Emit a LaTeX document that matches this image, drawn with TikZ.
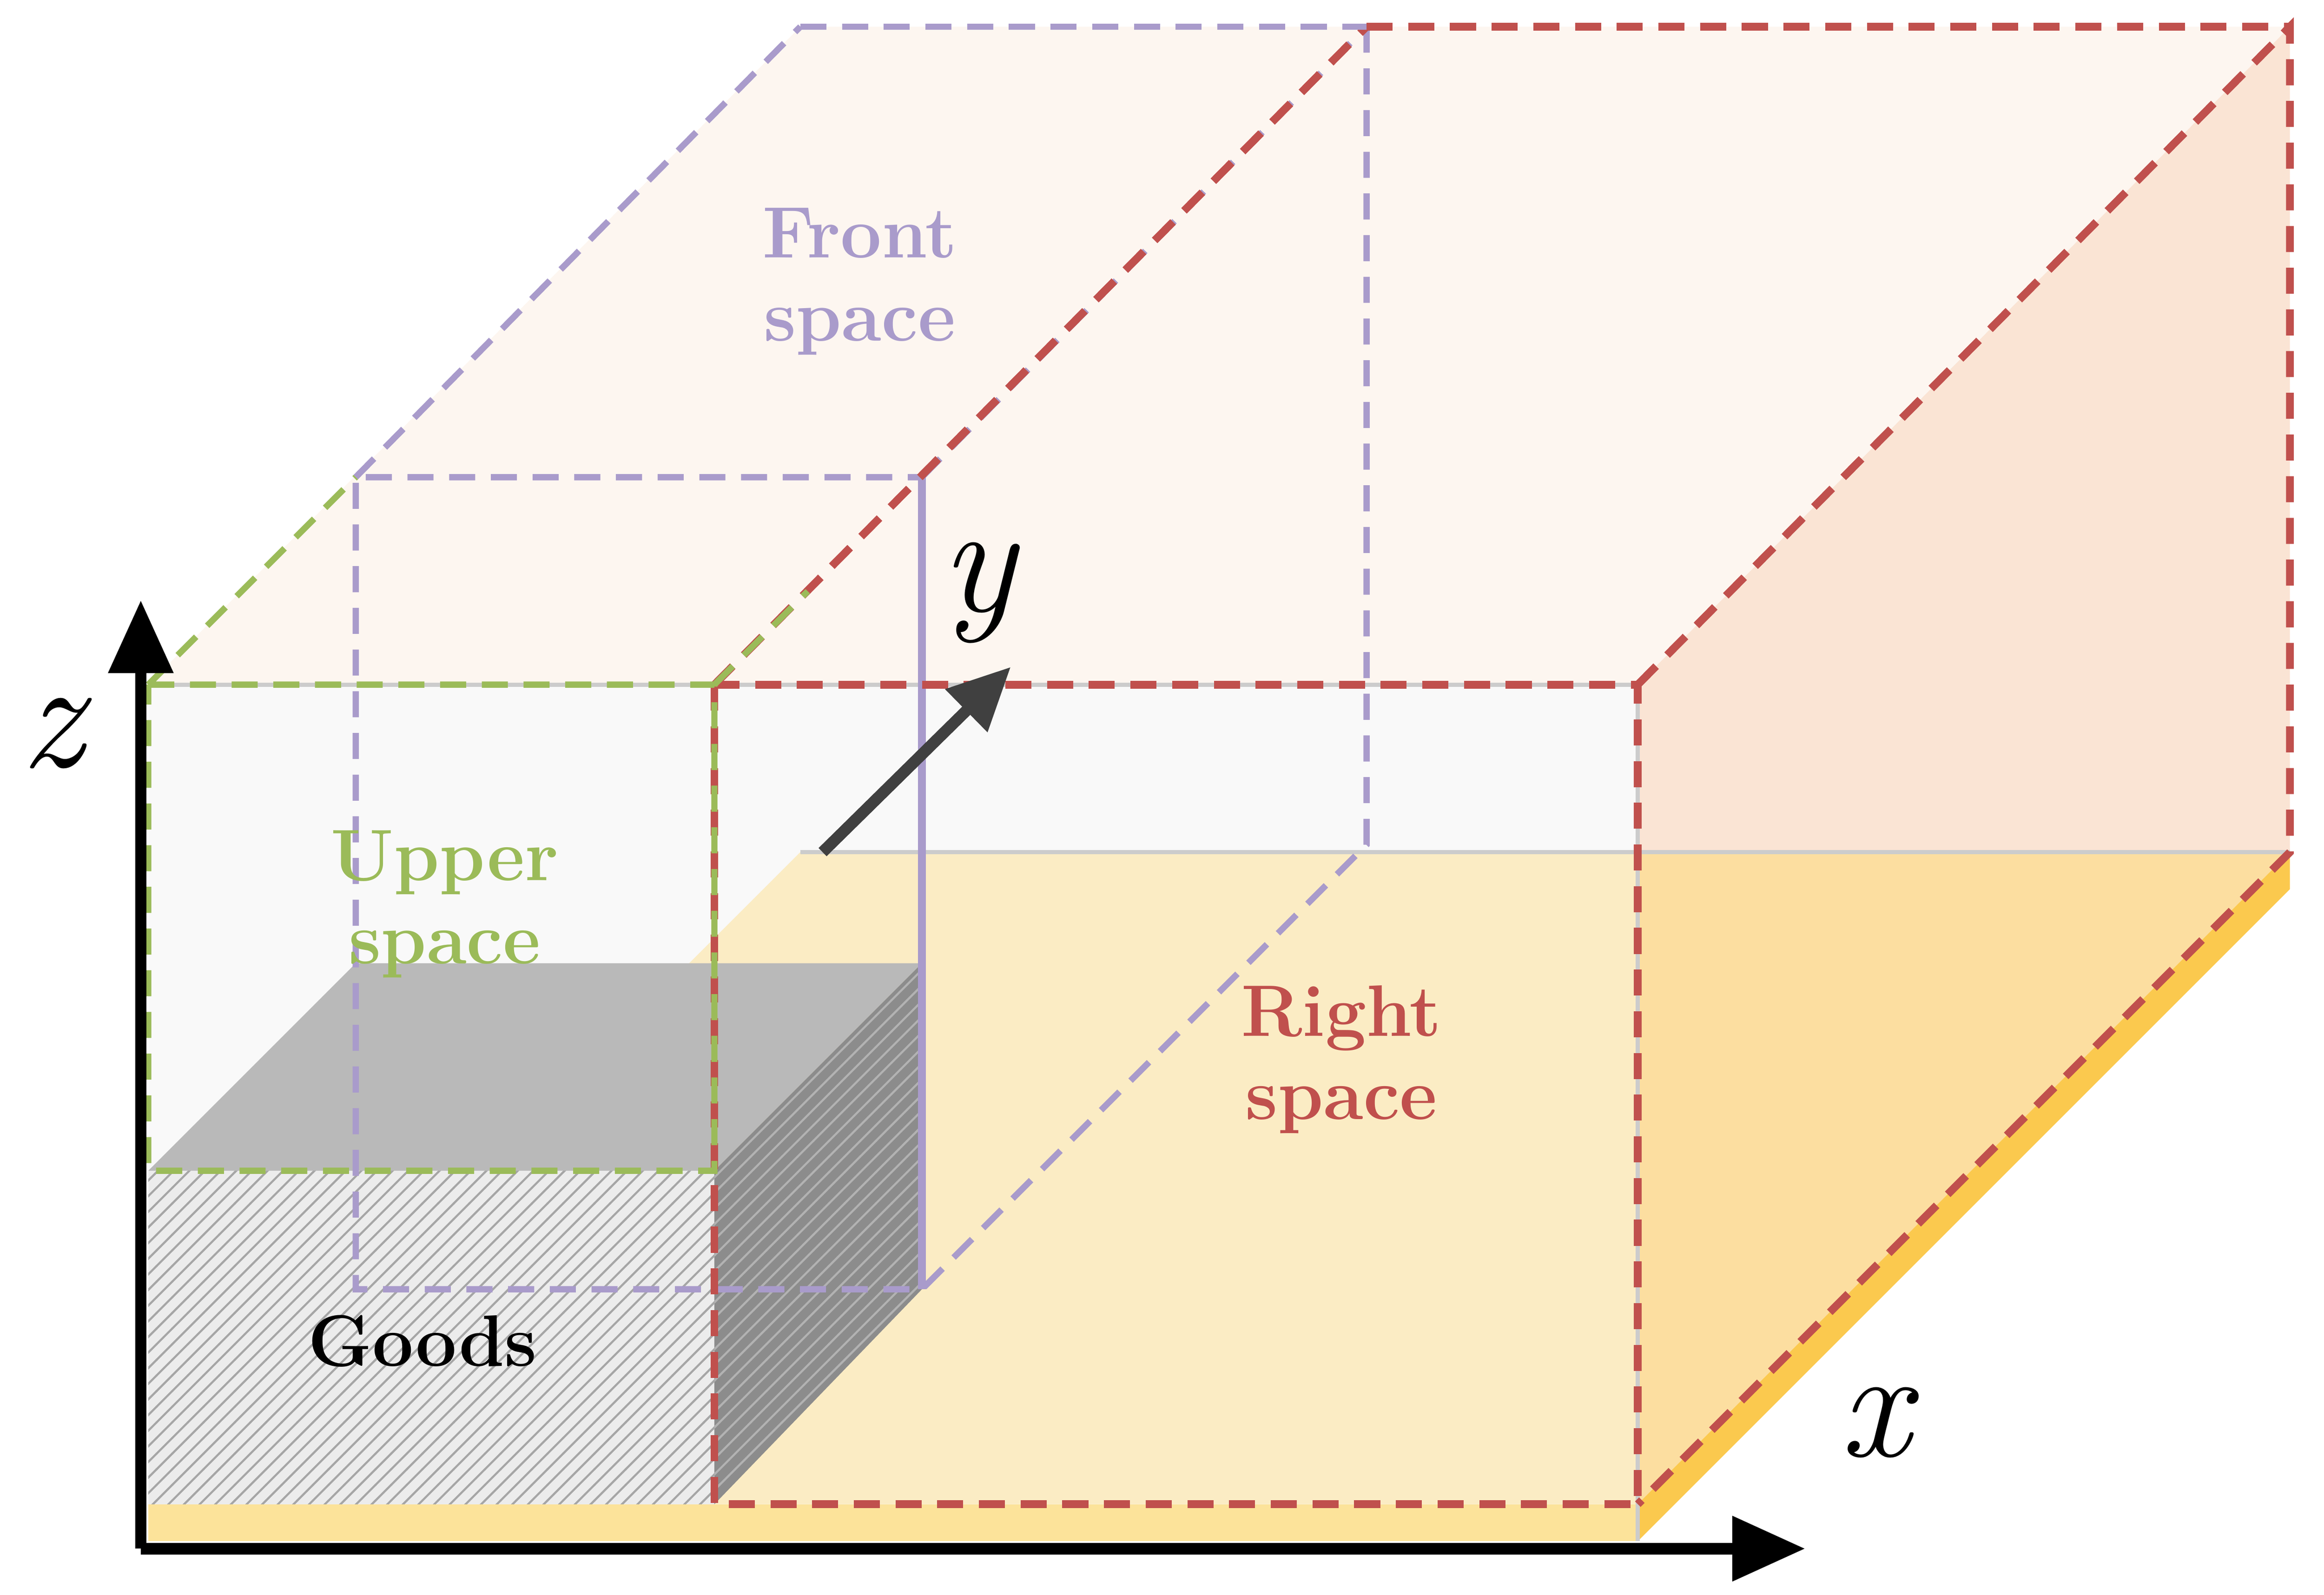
\documentclass[tikz,border=0pt]{standalone}
\usetikzlibrary{patterns,arrows.meta}
\begin{document}
\begin{tikzpicture}[x=0.01cm,y=-0.01cm,
  dsh/.style={line width=1.2pt,dash pattern=on 5pt off 3pt},
  pur/.style={dsh,draw=purpleC},
  grn/.style={dsh,draw=greenC},
  red/.style={dsh,draw=redC,line width=1.5pt},
  lab/.style={font=\fontsize{14}{16}\selectfont\bfseries,align=center},
  ax/.style={line width=2.2pt,-{Triangle[length=14pt,width=12pt]}},
  axl/.style={font=\fontsize{30}{30}\selectfont\itshape}]
\definecolor{purpleC}{HTML}{A99BCB}
\definecolor{greenC}{HTML}{9BBB59}
\definecolor{redC}{HTML}{C0504D}
\useasboundingbox (0,0) rectangle (1568,1076);
% container faces
\fill[fill={rgb,255:red,253;green,246;blue,240}] (100,462)--(540,18)--(1545,18)--(1105,462)--cycle;
\fill[fill={rgb,255:red,250;green,228;blue,212}] (1105,462)--(1545,18)--(1545,575)--(1105,1015)--cycle;
\fill[fill={rgb,255:red,249;green,249;blue,249}] (100,462) rectangle (1105,1015);
% floor
\fill[fill={rgb,255:red,251;green,236;blue,196}] (100,1015)--(540,575)--(1545,575)--(1105,1015)--cycle;
\fill[fill={rgb,255:red,252;green,222;blue,160}] (1105,1015)--(1105,575)--(1545,575)--cycle;
\fill[fill={rgb,255:red,252;green,227;blue,154}] (100,1015) rectangle (1105,1040);
\fill[fill={rgb,255:red,251;green,201;blue,78}] (1105,1015)--(1545,575)--(1545,600)--(1105,1040)--cycle;
\draw[gray!40,line width=0.8pt] (100,462)--(1105,462)--(1105,1040) (540,575)--(1545,575);
% goods
\fill[gray!15] (100,790) rectangle (482,1015);
\fill[pattern=north east lines,pattern color=gray!70] (100,790) rectangle (482,1015);
\fill[gray!55] (100,790)--(240,650)--(622,650)--(482,790)--cycle;
\fill[gray!90] (482,790)--(622,650)--(622,870)--(482,1015)--cycle;
\fill[pattern=north east lines,pattern color=gray!60] (482,790)--(622,650)--(622,870)--(482,1015)--cycle;
% front space (purple)
\draw[pur] (240,322)--(540,18) (622,322)--(922,18) (922,18)--(922,570)--(622,870)--(240,870)--(240,322)--(622,322);
\draw[line width=1.5pt,purpleC] (622,322)--(622,870);
% right space (red)
\draw[red] (482,462) rectangle (1105,1015);
\draw[red] (1105,462)--(1545,18)--(1545,575)--(1105,1015);
\draw[red] (922,18)--(1545,18);
\draw[red] (482,462)--(922,18);
\draw[pur] (540,18)--(922,18);
% upper space (green)
\draw[grn] (100,462)--(240,322) (100,462)--(482,462)--(482,790)--(100,790)--(100,462);
\draw[grn] (482,462)--(545,399);
% axes
\draw[ax] (95,1045)--(95,405);
\draw[ax] (95,1045)--(1218,1045);
\draw[line width=2.2pt,black!75,-{Triangle[length=12pt,width=11pt]}] (555,575)--(682,450);
\node[axl] (zl) at (35,495) {z};
\node[axl] (yl) at (660,400) {y};
\node[axl] (xl) at (1265,960) {x};
% labels
\node[lab,purpleC] (fs) at (580,190) {Front\\space};
\node[lab,greenC] (us) at (300,610) {Upper\\space};
\node[lab,redC] (rs) at (905,715) {Right\\space};
\node[lab,black] (gd) at (285,905) {Goods};
\end{tikzpicture}
\end{document}
